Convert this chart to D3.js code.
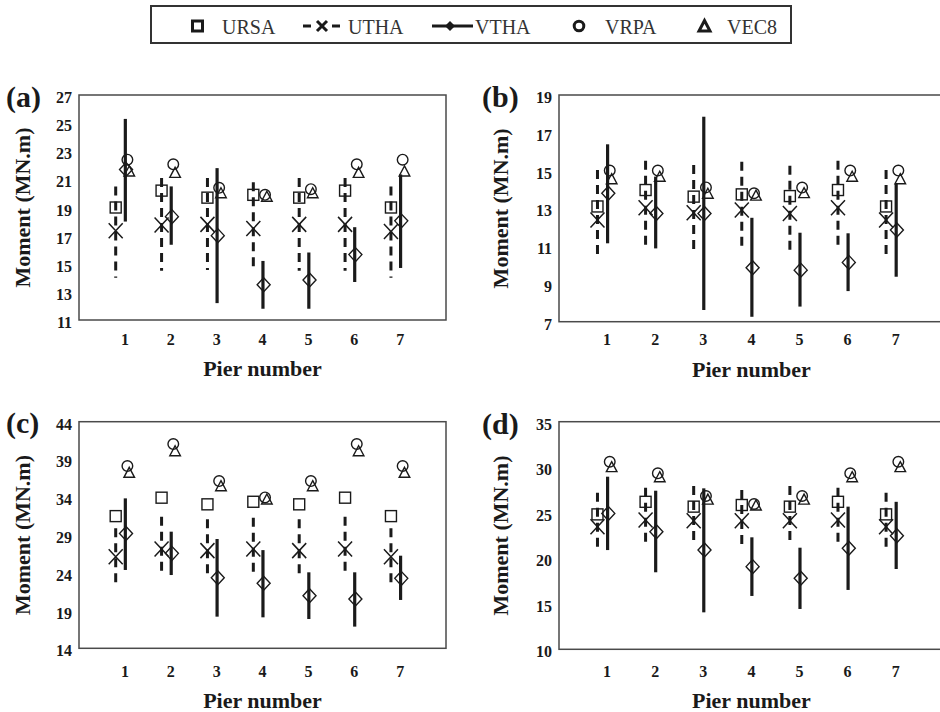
<!DOCTYPE html>
<html><head><meta charset="utf-8">
<script src="https://cdn.jsdelivr.net/npm/d3@7"></script>
<style>body{margin:0;background:#fff}svg{display:block}
svg text{font-family:"Liberation Serif","Tinos","Times New Roman","Nimbus Roman","DejaVu Serif",serif;}</style>
</head><body>
<svg id="chart" width="940" height="712"></svg>
<script>
const piers = [1, 2, 3, 4, 5, 6, 7];
const legendLabels = ["URSA", "UTHA", "VTHA", "VRPA", "VEC8"];

// Panel (a)
const ticksA = [11, 13, 15, 17, 19, 21, 23, 25, 27];
const ursaA = [19.0, 20.2, 19.7, 19.9, 19.7, 20.2, 19.0];
const uthaA = [17.35, 17.75, 17.8, 17.5, 17.8, 17.8, 17.3];
const uthaLowA = [14.0, 14.5, 14.55, 14.4, 14.5, 14.5, 14.0];
const uthaHighA = [20.5, 21.1, 21.1, 20.8, 21.1, 21.1, 20.5];
const vthaA = [21.7, 18.35, 17.0, 13.5, 13.85, 15.65, 18.05];
const vthaLowA = [18.0, 16.35, 12.2, 11.8, 11.8, 13.7, 14.7];
const vthaHighA = [25.3, 20.5, 21.8, 15.2, 15.8, 17.6, 21.35];
const vrpaA = [22.4, 22.07, 20.4, 19.9, 20.3, 22.07, 22.4];
const vec8A = [21.6, 21.5, 20.05, 19.8, 20.05, 21.5, 21.6];

// Panel (b)
const ticksB = [7, 9, 11, 13, 15, 17, 19];
const ursaB = [13.1, 13.97, 13.62, 13.74, 13.65, 13.97, 13.1];
const uthaB = [12.38, 13.03, 12.77, 12.91, 12.73, 13.03, 12.38];
const uthaLowB = [10.26, 10.76, 10.53, 10.7, 10.53, 10.76, 10.26];
const uthaHighB = [15.03, 15.52, 15.29, 15.47, 15.26, 15.52, 15.03];
const vthaB = [13.8, 12.73, 12.73, 9.86, 9.73, 10.14, 11.85];
const vthaLowB = [11.15, 10.88, 7.62, 7.26, 7.8, 8.62, 9.38];
const vthaHighB = [16.39, 14.68, 17.85, 12.5, 11.71, 11.68, 14.29];
const vrpaB = [15.0, 15.0, 14.11, 13.8, 14.1, 15.0, 15.0];
const vec8B = [14.57, 14.7, 13.8, 13.7, 13.83, 14.7, 14.57];

// Panel (c)
const ticksC = [14, 19, 24, 29, 34, 39, 44];
const ursaC = [31.5, 33.94, 33.06, 33.4, 33.06, 33.94, 31.5];
const uthaC = [26.13, 27.15, 26.93, 27.15, 26.93, 27.15, 26.13];
const uthaLowC = [21.94, 23.48, 23.17, 23.5, 23.17, 23.48, 21.94];
const uthaHighC = [29.88, 31.42, 31.07, 31.3, 31.07, 31.42, 29.88];
const vthaC = [29.2, 26.57, 23.35, 22.6, 20.97, 20.53, 23.26];
const vthaLowC = [24.37, 23.7, 18.19, 18.1, 17.88, 16.87, 20.4];
const vthaHighC = [33.85, 29.44, 28.47, 27.0, 24.06, 24.06, 26.26];
const vrpaC = [38.13, 41.04, 36.14, 33.98, 36.14, 41.04, 38.13];
const vec8C = [37.3, 40.16, 35.53, 33.76, 35.53, 40.16, 37.3];

// Panel (d)
const ticksD = [10, 15, 20, 25, 30, 35];
const ursaD = [24.82, 26.2, 25.67, 25.85, 25.67, 26.2, 24.82];
const uthaD = [23.47, 24.2, 24.13, 24.13, 24.13, 24.2, 23.47];
const uthaLowD = [20.8, 21.38, 21.53, 21.09, 21.53, 21.38, 20.8];
const uthaHighD = [27.2, 27.75, 27.94, 27.5, 27.94, 27.75, 27.2];
const vthaD = [24.93, 22.92, 20.9, 19.08, 17.8, 21.09, 22.48];
const vthaLowD = [20.9, 18.46, 14.06, 15.86, 14.43, 16.52, 18.82];
const vthaHighD = [28.96, 27.42, 27.68, 22.3, 21.16, 25.67, 26.2];
const vrpaD = [30.6, 29.33, 26.84, 25.96, 26.84, 29.33, 30.6];
const vec8D = [30.06, 28.96, 26.5, 25.85, 26.5, 28.96, 30.06];

const svg = d3.select("#chart");
const INK = "#1a1a1a";

function drawPanel(p) {
  const g = svg.append("g");
  const x = d3.scaleLinear().domain([0, 8]).range([p.left, p.right]);
  const y = d3.scaleLinear().domain([p.ticks[0], p.ticks[p.ticks.length - 1]]).range([p.bottom, p.top]);

  g.append("rect").attr("x", p.left).attr("y", p.top)
    .attr("width", p.right - p.left).attr("height", p.bottom - p.top)
    .attr("fill", "none").attr("stroke", "#4a4a4a").attr("stroke-width", 1.5);

  g.selectAll(".yt").data(p.ticks).join("text")
    .attr("x", p.left - 7).attr("y", d => y(d) + 8)
    .attr("text-anchor", "end").attr("font-weight", "bold")
    .attr("font-size", 16).attr("fill", INK).text(d => d);
  g.selectAll(".xt").data(piers).join("text")
    .attr("x", d => x(d)).attr("y", p.bottom + p.xlabOff)
    .attr("text-anchor", "middle").attr("font-weight", "bold")
    .attr("font-size", 16).attr("fill", INK).text(d => d);
  g.append("text").attr("x", x(4)).attr("y", p.bottom + p.xtitleOff)
    .attr("text-anchor", "middle").attr("font-weight", "bold")
    .attr("font-size", 22).attr("fill", INK).text("Pier number");
  g.append("text")
    .attr("transform", `translate(${p.ytitleX},${(p.top + p.bottom) / 2}) rotate(-90)`)
    .attr("text-anchor", "middle").attr("font-weight", "bold")
    .attr("font-size", 22).attr("fill", INK).text("Moment (MN.m)");
  g.append("text").attr("x", p.labelX).attr("y", p.labelY)
    .attr("font-weight", "bold")
    .attr("font-size", 30).attr("fill", INK).text(p.label);

  const idx = d3.range(piers.length);
  const dOff = -0.2, sOff = 0.01;
  g.selectAll(".ud").data(idx).join("line")
    .attr("x1", i => x(piers[i] + dOff)).attr("x2", i => x(piers[i] + dOff))
    .attr("y1", i => y(p.uthaHigh[i])).attr("y2", i => y(p.uthaLow[i]))
    .attr("stroke", INK).attr("stroke-width", 3).attr("stroke-dasharray", "9,6");
  g.selectAll(".vs").data(idx).join("line")
    .attr("x1", i => x(piers[i] + sOff)).attr("x2", i => x(piers[i] + sOff))
    .attr("y1", i => y(p.vthaHigh[i])).attr("y2", i => y(p.vthaLow[i]))
    .attr("stroke", INK).attr("stroke-width", 3.2);

  const mk = (sel) => sel.attr("fill", "none").attr("stroke", INK).attr("stroke-width", 1.4);
  mk(g.selectAll(".sq").data(idx).join("rect")
    .attr("x", i => x(piers[i] + dOff) - 5.5).attr("y", i => y(p.ursa[i]) - 5.5)
    .attr("width", 11).attr("height", 11));
  mk(g.selectAll(".ux").data(idx).join("path")
    .attr("d", i => {
      const cx = x(piers[i] + dOff), cy = y(p.utha[i]), a = 7, b = 7.5;
      return `M${cx - a},${cy - b}L${cx + a},${cy + b}M${cx - a},${cy + b}L${cx + a},${cy - b}`;
    })).attr("stroke-width", 1.5);
  mk(g.selectAll(".dm").data(idx).join("path")
    .attr("d", i => {
      const cx = x(piers[i] + 0.025), cy = y(p.vtha[i]), a = 6.5, b = 7;
      return `M${cx},${cy - b}L${cx + a},${cy}L${cx},${cy + b}L${cx - a},${cy}Z`;
    }));
  mk(g.selectAll(".ci").data(idx).join("circle")
    .attr("cx", i => x(piers[i] + 0.055)).attr("cy", i => y(p.vrpa[i])).attr("r", 5.3));
  mk(g.selectAll(".tr").data(idx).join("path")
    .attr("d", i => {
      const cx = x(piers[i] + 0.095), cy = y(p.vec8[i]), a = 5.3, h = 5;
      return `M${cx},${cy - h}L${cx + a},${cy + h}L${cx - a},${cy + h}Z`;
    }));
}

drawPanel({ label: "(a)", labelX: 6, labelY: 107, left: 79, right: 446, top: 95, bottom: 320,
  ticks: ticksA, xlabOff: 25, xtitleOff: 56, ytitleX: 30,
  ursa: ursaA, utha: uthaA, uthaLow: uthaLowA, uthaHigh: uthaHighA,
  vtha: vthaA, vthaLow: vthaLowA, vthaHigh: vthaHighA, vrpa: vrpaA, vec8: vec8A });
drawPanel({ label: "(b)", labelX: 482, labelY: 107, left: 559, right: 943.8, top: 95, bottom: 321.7,
  ticks: ticksB, xlabOff: 23.5, xtitleOff: 55.5, ytitleX: 508,
  ursa: ursaB, utha: uthaB, uthaLow: uthaLowB, uthaHigh: uthaHighB,
  vtha: vthaB, vthaLow: vthaLowB, vthaHigh: vthaHighB, vrpa: vrpaB, vec8: vec8B });
drawPanel({ label: "(c)", labelX: 6, labelY: 433, left: 79, right: 446, top: 421.7, bottom: 648.3,
  ticks: ticksC, xlabOff: 28.5, xtitleOff: 59.5, ytitleX: 30,
  ursa: ursaC, utha: uthaC, uthaLow: uthaLowC, uthaHigh: uthaHighC,
  vtha: vthaC, vthaLow: vthaLowC, vthaHigh: vthaHighC, vrpa: vrpaC, vec8: vec8C });
drawPanel({ label: "(d)", labelX: 482, labelY: 434, left: 559, right: 943.8, top: 421.7, bottom: 649.3,
  ticks: ticksD, xlabOff: 27.5, xtitleOff: 58.5, ytitleX: 508,
  ursa: ursaD, utha: uthaD, uthaLow: uthaLowD, uthaHigh: uthaHighD,
  vtha: vthaD, vthaLow: vthaLowD, vthaHigh: vthaHighD, vrpa: vrpaD, vec8: vec8D });

// Legend
const lg = svg.append("g");
lg.append("rect").attr("x", 151).attr("y", 6).attr("width", 640).attr("height", 37)
  .attr("fill", "#fff").attr("stroke", "#333").attr("stroke-width", 2);
const lw = 3, cy = 26;
lg.append("rect").attr("x", 192.5).attr("y", cy - 5).attr("width", 10).attr("height", 10)
  .attr("fill", "none").attr("stroke", INK).attr("stroke-width", lw);
lg.append("path").attr("d", `M303,${cy}H311M332,${cy}H340M317,${cy - 5}L327,${cy + 5}M317,${cy + 5}L327,${cy - 5}`)
  .attr("stroke", INK).attr("stroke-width", lw).attr("fill", "none");
lg.append("line").attr("x1", 432).attr("x2", 473).attr("y1", cy).attr("y2", cy)
  .attr("stroke", INK).attr("stroke-width", lw);
lg.append("path").attr("d", `M450,${cy - 5}L455,${cy}L450,${cy + 5}L445,${cy}Z`).attr("fill", INK);
lg.append("circle").attr("cx", 579).attr("cy", cy).attr("r", 4.8)
  .attr("fill", "none").attr("stroke", INK).attr("stroke-width", lw);
lg.append("path").attr("d", `M704.5,${cy - 5.5}L710,${cy + 5}L699,${cy + 5}Z`)
  .attr("fill", "none").attr("stroke", INK).attr("stroke-width", lw).attr("stroke-linejoin", "miter");
const lx = [222, 348, 475, 605, 727];
lg.selectAll(".lt").data(legendLabels).join("text")
  .attr("x", (d, i) => lx[i]).attr("y", 33.5)
  .attr("font-size", 20).attr("fill", "#333").text(d => d);
</script>
</body></html>
